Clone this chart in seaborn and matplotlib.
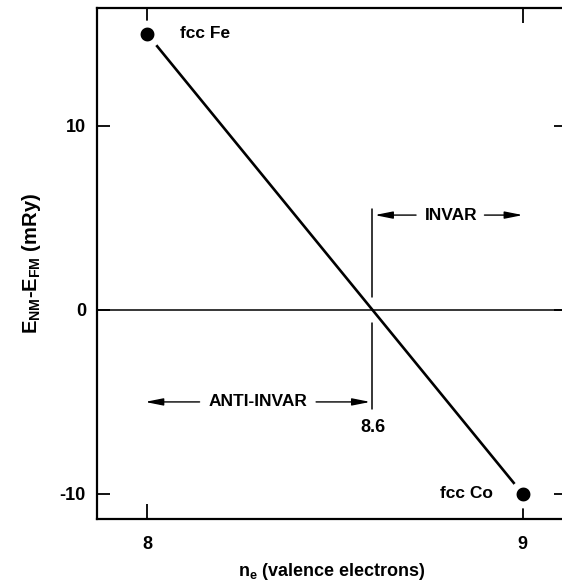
import matplotlib
matplotlib.use("Agg")
import matplotlib.pyplot as plt
import seaborn as sns
import pandas as pd

# ---- data ----
ne = [8, 9]
energy = [15, -10]
point_labels = ["fcc Fe", "fcc Co"]
crossover = 8.6
xticks = [8, 9]
yticks = [10, 0, -10]
ytick_labels = ["10", "0", "-10"]

sns.set_theme(style="white")
plt.rcParams['font.family'] = ['Liberation Sans', 'DejaVu Sans']
plt.rcParams['font.weight'] = 'bold'
plt.rcParams['text.color'] = 'black'
plt.rcParams['axes.labelcolor'] = 'black'
plt.rcParams['mathtext.fontset'] = 'custom'
plt.rcParams['mathtext.rm'] = 'Liberation Sans:bold'
plt.rcParams['mathtext.it'] = 'Liberation Sans:bold'
plt.rcParams['mathtext.default'] = 'rm'

df = pd.DataFrame({"ne": ne, "E": energy, "label": point_labels})

fig = plt.figure(figsize=(5.62, 5.84), dpi=100)
ax = fig.add_axes([97/562, 65/584, (566-97)/562, (519-8)/584])

# zero line
ax.axhline(0, color="black", lw=1.1, zorder=1)

sns.lineplot(data=df, x="ne", y="E", ax=ax, color="black", lw=1.9, zorder=2)
sns.scatterplot(data=df, x="ne", y="E", ax=ax, color="black", s=225,
                edgecolor="white", linewidth=5, zorder=3)

# vertical marker at crossover
ax.plot([crossover, crossover], [0.7, 5.5], color="black", lw=1.1)
ax.plot([crossover, crossover], [-0.7, -5.4], color="black", lw=1.1)

fs = 13
arrow = dict(arrowstyle="-|>,head_length=0.9,head_width=0.18", color="black", lw=1.0, shrinkA=0, shrinkB=0)
# INVAR
ax.annotate("", xy=(crossover + 0.006, 5.15), xytext=(8.716, 5.15), arrowprops=arrow)
ax.text(8.809, 5.15, "INVAR", ha="center", va="center", fontsize=12.5, fontweight="bold")
ax.annotate("", xy=(9.0, 5.15), xytext=(8.898, 5.15), arrowprops=arrow)
# ANTI-INVAR
ax.annotate("", xy=(7.995, -5.0), xytext=(8.14, -5.0), arrowprops=arrow)
ax.text(8.295, -5.0, "ANTI-INVAR", ha="center", va="center", fontsize=12.5, fontweight="bold")
ax.annotate("", xy=(crossover - 0.006, -5.0), xytext=(8.45, -5.0), arrowprops=arrow)
ax.text(crossover, -6.4, "8.6", ha="center", va="center", fontsize=fs, fontweight="bold")

# point labels
ax.text(ne[0] + 0.088, energy[0], point_labels[0], ha="left", va="center", fontsize=12.5, fontweight="bold")
ax.text(ne[1] - 0.08, energy[1], point_labels[1], ha="right", va="center", fontsize=12.5, fontweight="bold")

ax.set_xlim(7.867, 9.115)
ax.set_ylim(-11.36, 16.4)
ax.set_xticks(xticks)
ax.set_xticklabels([str(t) for t in xticks], fontsize=fs, fontweight="bold")
ax.set_yticks(yticks)
ax.set_yticklabels(ytick_labels, fontsize=fs, fontweight="bold")
ax.tick_params(axis="x", direction="in", length=11, width=1.3, top=True, bottom=True, pad=12, colors="black")
ax.tick_params(axis="y", direction="in", length=9, width=1.3, left=True, right=True, pad=8, colors="black")
for s in ax.spines.values():
    s.set_color("black")
    s.set_linewidth(1.6)

ax.set_xlabel("n$_{e}$ (valence electrons)", fontsize=13, fontweight="bold", labelpad=6)
ax.set_ylabel("E$_{NM}$-E$_{FM}$ (mRy)", fontsize=14.5, fontweight="bold", labelpad=12)

fig.savefig("out.png", dpi=100, facecolor="white")
